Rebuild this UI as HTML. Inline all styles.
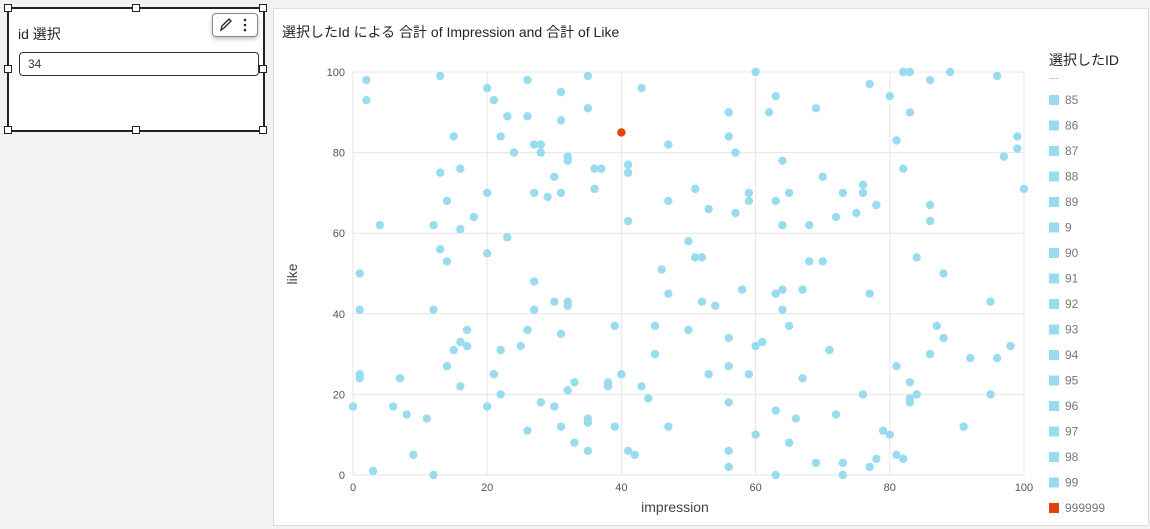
<!DOCTYPE html>
<html><head><meta charset="utf-8">
<style>
body{margin:0;width:1150px;height:529px;background:#f2f2f2;font-family:"Liberation Sans","Noto Sans CJK JP",sans-serif;position:relative;overflow:hidden}
.slicer{position:absolute;left:7px;top:7px;width:254px;height:121px;background:#fff;border:2px solid #222}
.h{position:absolute;width:6px;height:6px;background:#fff;border:1px solid #222}
.card{position:absolute;left:273px;top:8px;width:874px;height:516px;background:#fff;border:1px solid #ddd}
</style></head><body>
<div class="slicer">
  <div style="position:absolute;left:9px;top:15px;font-size:14px;color:#252423">id 選択</div>
  <div style="position:absolute;left:10px;top:43px;width:230px;height:22px;border:1px solid #333;border-radius:4px;font-size:12px;line-height:22px;padding-left:8px;color:#333">34</div>
  <div style="position:absolute;left:203px;top:4px;width:44px;height:22px;border:1px solid #888;border-radius:4px;background:#fff;box-shadow:0 2px 4px rgba(0,0,0,.25)">
    <svg width="44" height="22"><path d="M8 16 L9 12 L16 5 L18 7 L11 14 Z" fill="none" stroke="#222" stroke-width="1.3"/><circle cx="32" cy="6" r="1.3" fill="#222"/><circle cx="32" cy="11" r="1.3" fill="#222"/><circle cx="32" cy="16" r="1.3" fill="#222"/></svg>
  </div>
</div>
<div class="h" style="left:4px;top:4px"></div><div class="h" style="left:132px;top:4px"></div><div class="h" style="left:259px;top:4px"></div>
<div class="h" style="left:4px;top:65px"></div><div class="h" style="left:259px;top:65px"></div>
<div class="h" style="left:4px;top:126px"></div><div class="h" style="left:132px;top:126px"></div><div class="h" style="left:259px;top:126px"></div>
<div class="card"></div>
<svg id="chart" width="1150" height="529" style="position:absolute;left:0;top:0" font-family="Liberation Sans, Noto Sans CJK JP, sans-serif">
<text x="282" y="37" font-size="14" fill="#252423">選択したId による 合計 of Impression and 合計 of Like</text>
<text x="1049" y="65" font-size="14" fill="#252423">選択したID</text>
<rect x="1049" y="78" width="10" height="1" fill="#9ddfee"/>
<g id="grid"></g><g id="marks"></g><g id="legend"></g>
<text x="675" y="512" font-size="14" text-anchor="middle" fill="#444">impression</text>
<text transform="translate(297,274) rotate(-90)" font-size="14" text-anchor="middle" fill="#444">like</text>
</svg>
<script>
const xTicks=[0,20,40,60,80,100];
const yTicks=[0,20,40,60,80,100];
const impression=[0,1,1,1,1,2,2,3,4,6,7,8,9,11,12,12,12,13,13,13,14,14,14,15,15,16,16,16,16,17,17,18,20,20,20,20,21,21,22,22,22,23,23,24,25,26,26,26,26,27,27,27,27,28,28,28,29,30,30,30,31,31,31,31,31,32,32,32,32,32,33,33,35,35,35,35,35,36,36,37,38,38,39,39,40,41,41,41,41,42,43,43,44,45,45,46,47,47,47,47,50,50,51,51,52,52,53,53,54,56,56,56,56,56,56,56,57,57,58,59,59,59,60,60,60,61,62,63,63,63,63,63,64,64,64,64,65,65,65,66,67,67,68,68,69,69,70,70,71,72,72,73,73,73,75,76,76,76,77,77,77,78,78,79,80,80,81,81,81,82,82,82,83,83,83,83,83,84,84,86,86,86,86,87,88,88,89,91,92,95,95,96,96,97,98,99,99,100];
const like=[17,50,41,25,24,98,93,1,62,17,24,15,5,14,0,62,41,99,75,56,53,68,27,31,84,76,61,33,22,36,32,64,96,70,55,17,93,25,84,31,20,89,59,80,32,98,89,36,11,82,70,48,41,82,80,18,69,74,43,17,88,95,70,35,12,79,78,43,42,21,23,8,99,91,14,13,6,76,71,76,23,22,37,12,25,77,75,63,6,5,96,22,19,37,30,51,82,68,45,12,58,36,71,54,54,43,66,25,42,90,84,34,27,18,6,2,80,65,46,70,68,25,100,32,10,33,90,94,68,45,16,0,78,62,46,41,70,37,8,14,46,24,62,53,91,3,74,53,31,64,15,70,3,0,65,72,70,20,97,45,2,67,4,11,94,10,83,27,5,100,76,4,100,90,23,19,18,20,54,98,67,63,30,37,50,34,100,12,29,43,20,99,29,79,32,84,81,71];
const selectedX=[40], selectedY=[85];
const legendLabels=["85","86","87","88","89","9","90","91","92","93","94","95","96","97","98","99","999999"];
const X0=353,X1=1024,Y0=475,Y1=72;
const sx=v=>X0+(v-0)/100*(X1-X0), sy=v=>Y0-(v-0)/100*(Y0-Y1);
const NS="http://www.w3.org/2000/svg";
const mk=(t,a,p)=>{const e=document.createElementNS(NS,t);for(const k in a)e.setAttribute(k,a[k]);p.appendChild(e);return e;};
const grid=document.getElementById('grid'),marks=document.getElementById('marks'),leg=document.getElementById('legend');
xTicks.forEach(t=>{mk('line',{x1:sx(t),x2:sx(t),y1:Y1,y2:Y0,stroke:'#e6e6e6'},grid);
 const tx=mk('text',{x:sx(t),y:Y0+16,'font-size':11,'text-anchor':'middle',fill:'#555'},grid);tx.textContent=t;
 
 });
yTicks.forEach(t=>{mk('line',{x1:X0,x2:X1,y1:sy(t),y2:sy(t),stroke:'#e6e6e6'},grid);
 const tx=mk('text',{x:X0-8,y:sy(t)+4,'font-size':11,'text-anchor':'end',fill:'#555'},grid);tx.textContent=t;
 
 });
impression.forEach((v,i)=>{const c=mk('circle',{cx:sx(v),cy:sy(like[i]),r:4.2,fill:'#99dcf0'},marks);
 
 });
selectedX.forEach((v,i)=>{const c=mk('circle',{cx:sx(v),cy:sy(selectedY[i]),r:4.2,fill:'#e0430f'},marks);
 
 });
legendLabels.forEach((l,i)=>{const y=100+i*25.5;const g=mk('g',{},leg);
 
 
 mk('rect',{x:1049,y:y-5,width:10,height:10,fill:l==='999999'?'#e0430f':'#99dcf0'},g);
 const t=mk('text',{x:1065,y:y+4,'font-size':12,fill:'#777'},g);t.textContent=l;});
</script>
</body></html>
